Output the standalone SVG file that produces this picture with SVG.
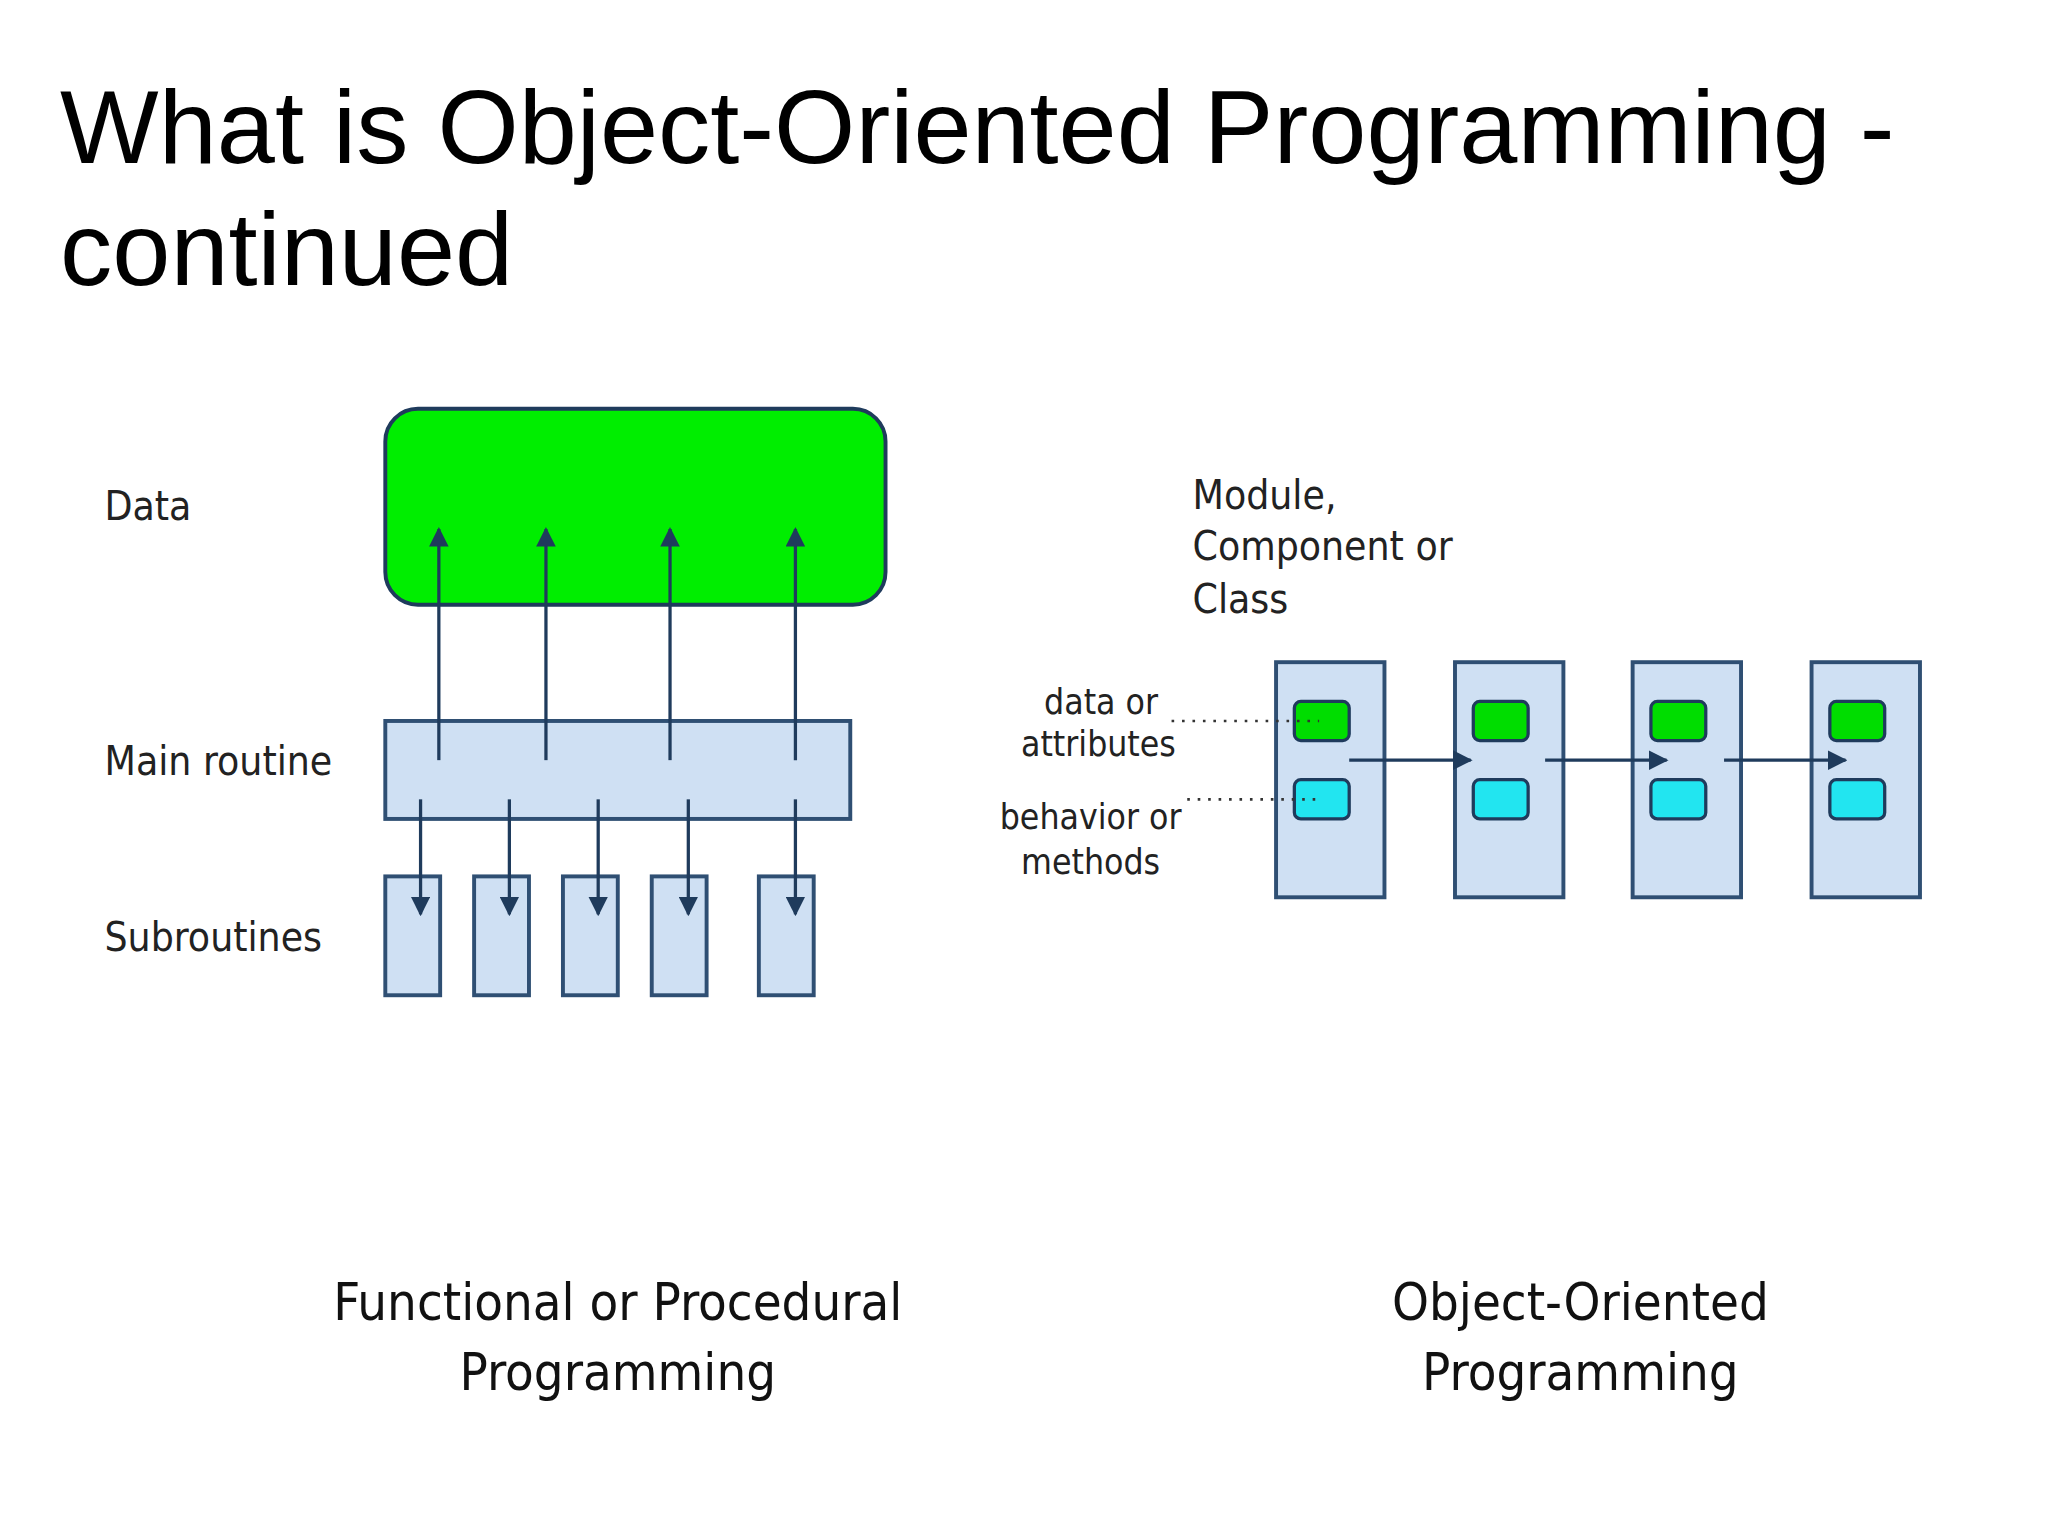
<svg xmlns="http://www.w3.org/2000/svg" width="2048" height="1536" viewBox="0 0 2048 1536">
<defs>
<style>
.t{font-family:"Liberation Sans",Arial,sans-serif;fill:#000}
.l{font-family:"DejaVu Sans Condensed","Liberation Sans",sans-serif;fill:#222;font-size:31px}
.s{font-family:"DejaVu Sans Condensed","Liberation Sans",sans-serif;fill:#222;font-size:27px;text-anchor:middle}
.b{font-family:"DejaVu Sans Condensed","Liberation Sans",sans-serif;fill:#111;font-size:40px;text-anchor:middle}
.box{fill:#cfe0f3;stroke:#2f4f73;stroke-width:3}
.ar{stroke:#1f3b5c;stroke-width:2.5;fill:none}
.dot{stroke:#333;stroke-width:2;stroke-dasharray:2 6}
</style>
<marker id="ah" viewBox="0 0 10 10" refX="9" refY="5" markerWidth="6" markerHeight="6" orient="auto"><path d="M0,0 L10,5 L0,10 z" fill="#1f3b5c"/></marker>
</defs>
<rect width="2048" height="1536" fill="#fff"/>
<g transform="scale(1.3061)">
<text class="t" x="46" y="125" font-size="80">What is Object-Oriented Programming -</text>
<text class="t" x="46" y="218" font-size="80">continued</text>
<g id="data"><rect x="295" y="313" width="383" height="150" rx="25" fill="#00ee00" stroke="#1f3b5c" stroke-width="3"/></g>
<g id="main"><rect class="box" x="295" y="552" width="356" height="75"/></g>
<g id="subs">
<rect class="box" x="295" y="671" width="42" height="91"/>
<rect class="box" x="363" y="671" width="42" height="91"/>
<rect class="box" x="431" y="671" width="42" height="91"/>
<rect class="box" x="499" y="671" width="42" height="91"/>
<rect class="box" x="581" y="671" width="42" height="91"/>
</g>
<g id="classes">
<rect class="box" x="977" y="507" width="83" height="180"/>
<rect class="box" x="1114" y="507" width="83" height="180"/>
<rect class="box" x="1250" y="507" width="83" height="180"/>
<rect class="box" x="1387" y="507" width="83" height="180"/>
<g fill="#00dd00" stroke="#1f3b5c" stroke-width="2.5">
<rect x="991" y="537" width="42" height="30" rx="5"/><rect x="1128" y="537" width="42" height="30" rx="5"/><rect x="1264" y="537" width="42" height="30" rx="5"/><rect x="1401" y="537" width="42" height="30" rx="5"/>
</g>
<g fill="#22e5f0" stroke="#1f3b5c" stroke-width="2.5">
<rect x="991" y="597" width="42" height="30" rx="5"/><rect x="1128" y="597" width="42" height="30" rx="5"/><rect x="1264" y="597" width="42" height="30" rx="5"/><rect x="1401" y="597" width="42" height="30" rx="5"/>
</g>
</g>
<g id="connectors">
<line class="ar" x1="336" y1="582" x2="336" y2="405" marker-end="url(#ah)"/>
<line class="ar" x1="418" y1="582" x2="418" y2="405" marker-end="url(#ah)"/>
<line class="ar" x1="513" y1="582" x2="513" y2="405" marker-end="url(#ah)"/>
<line class="ar" x1="609" y1="582" x2="609" y2="405" marker-end="url(#ah)"/>
<line class="ar" x1="322" y1="612" x2="322" y2="700" marker-end="url(#ah)"/>
<line class="ar" x1="390" y1="612" x2="390" y2="700" marker-end="url(#ah)"/>
<line class="ar" x1="458" y1="612" x2="458" y2="700" marker-end="url(#ah)"/>
<line class="ar" x1="527" y1="612" x2="527" y2="700" marker-end="url(#ah)"/>
<line class="ar" x1="609" y1="612" x2="609" y2="700" marker-end="url(#ah)"/>
<line class="ar" x1="1033" y1="582" x2="1126" y2="582" marker-end="url(#ah)"/>
<line class="ar" x1="1183" y1="582" x2="1276" y2="582" marker-end="url(#ah)"/>
<line class="ar" x1="1320" y1="582" x2="1413" y2="582" marker-end="url(#ah)"/>
<line class="dot" x1="897" y1="552" x2="1010" y2="552"/>
<line class="dot" x1="909" y1="612" x2="1010" y2="612"/>
</g>
<text class="l" x="80" y="398">Data</text>
<text class="l" x="80" y="593">Main routine</text>
<text class="l" x="80" y="728">Subroutines</text>
<text class="l" x="913" y="390">Module,</text>
<text class="l" x="913" y="429">Component or</text>
<text class="l" x="913" y="469">Class</text>
<text class="s" x="843" y="547">data or</text>
<text class="s" x="841" y="579">attributes</text>
<text class="s" x="835" y="635">behavior or</text>
<text class="s" x="835" y="669">methods</text>
<text class="b" x="473" y="1011">Functional or Procedural</text>
<text class="b" x="473" y="1064">Programming</text>
<text class="b" x="1210" y="1011">Object-Oriented</text>
<text class="b" x="1210" y="1064">Programming</text>
</g>
</svg>
